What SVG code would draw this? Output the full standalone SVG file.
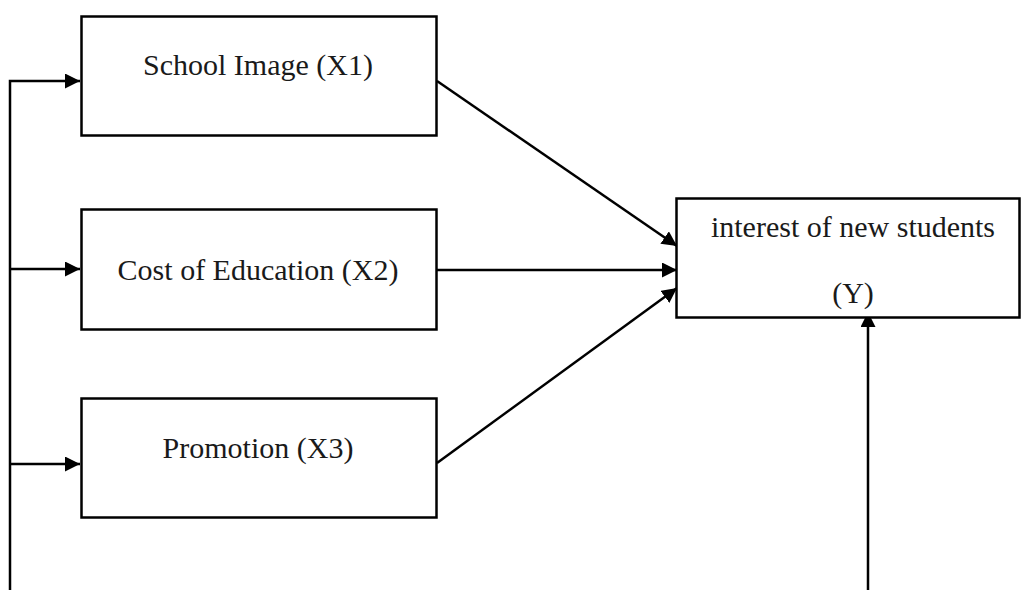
<svg xmlns="http://www.w3.org/2000/svg" width="1021" height="590" viewBox="0 0 1021 590">
<style>
.box{fill:#fff;stroke:#000;stroke-width:2.5}
.lbl{font-family:"Liberation Serif",serif;font-size:30px;fill:#1a1a1a;text-anchor:middle}
.con{stroke:#000;stroke-width:2.5;fill:none}
</style>
<defs>
<marker id="ah" markerUnits="userSpaceOnUse" markerWidth="16" markerHeight="16" refX="15" refY="7.5" orient="auto">
<path d="M0,0 L15,7.5 L0,15 Z" fill="#000"/>
</marker>
</defs>
<rect width="1021" height="590" fill="#fff"/>
<g id="connectors">
<polyline class="con" points="10,590 10,81 80,81" marker-end="url(#ah)"/>
<line class="con" x1="10" y1="269" x2="80" y2="269" marker-end="url(#ah)"/>
<line class="con" x1="10" y1="464" x2="80" y2="464" marker-end="url(#ah)"/>
<line class="con" x1="437" y1="81" x2="677" y2="246" marker-end="url(#ah)"/>
<line class="con" x1="437" y1="270" x2="677" y2="270" marker-end="url(#ah)"/>
<line class="con" x1="437" y1="463" x2="677" y2="288" marker-end="url(#ah)"/>
<line class="con" x1="868" y1="590" x2="868" y2="312" marker-end="url(#ah)"/>
</g>
<g id="x1">
<rect class="box" x="81.5" y="16.5" width="355" height="119"/>
<text class="lbl" x="258" y="75">School Image (X1)</text>
</g>
<g id="x2">
<rect class="box" x="81.5" y="209.5" width="355" height="120"/>
<text class="lbl" x="258" y="280">Cost of Education (X2)</text>
</g>
<g id="x3">
<rect class="box" x="81.5" y="398.5" width="355" height="119"/>
<text class="lbl" x="258" y="458">Promotion (X3)</text>
</g>
<g id="y">
<rect class="box" x="676.5" y="198.5" width="343" height="119"/>
<text class="lbl" x="853" y="237">interest of new students</text>
<text class="lbl" x="853" y="303">(Y)</text>
</g>
</svg>
